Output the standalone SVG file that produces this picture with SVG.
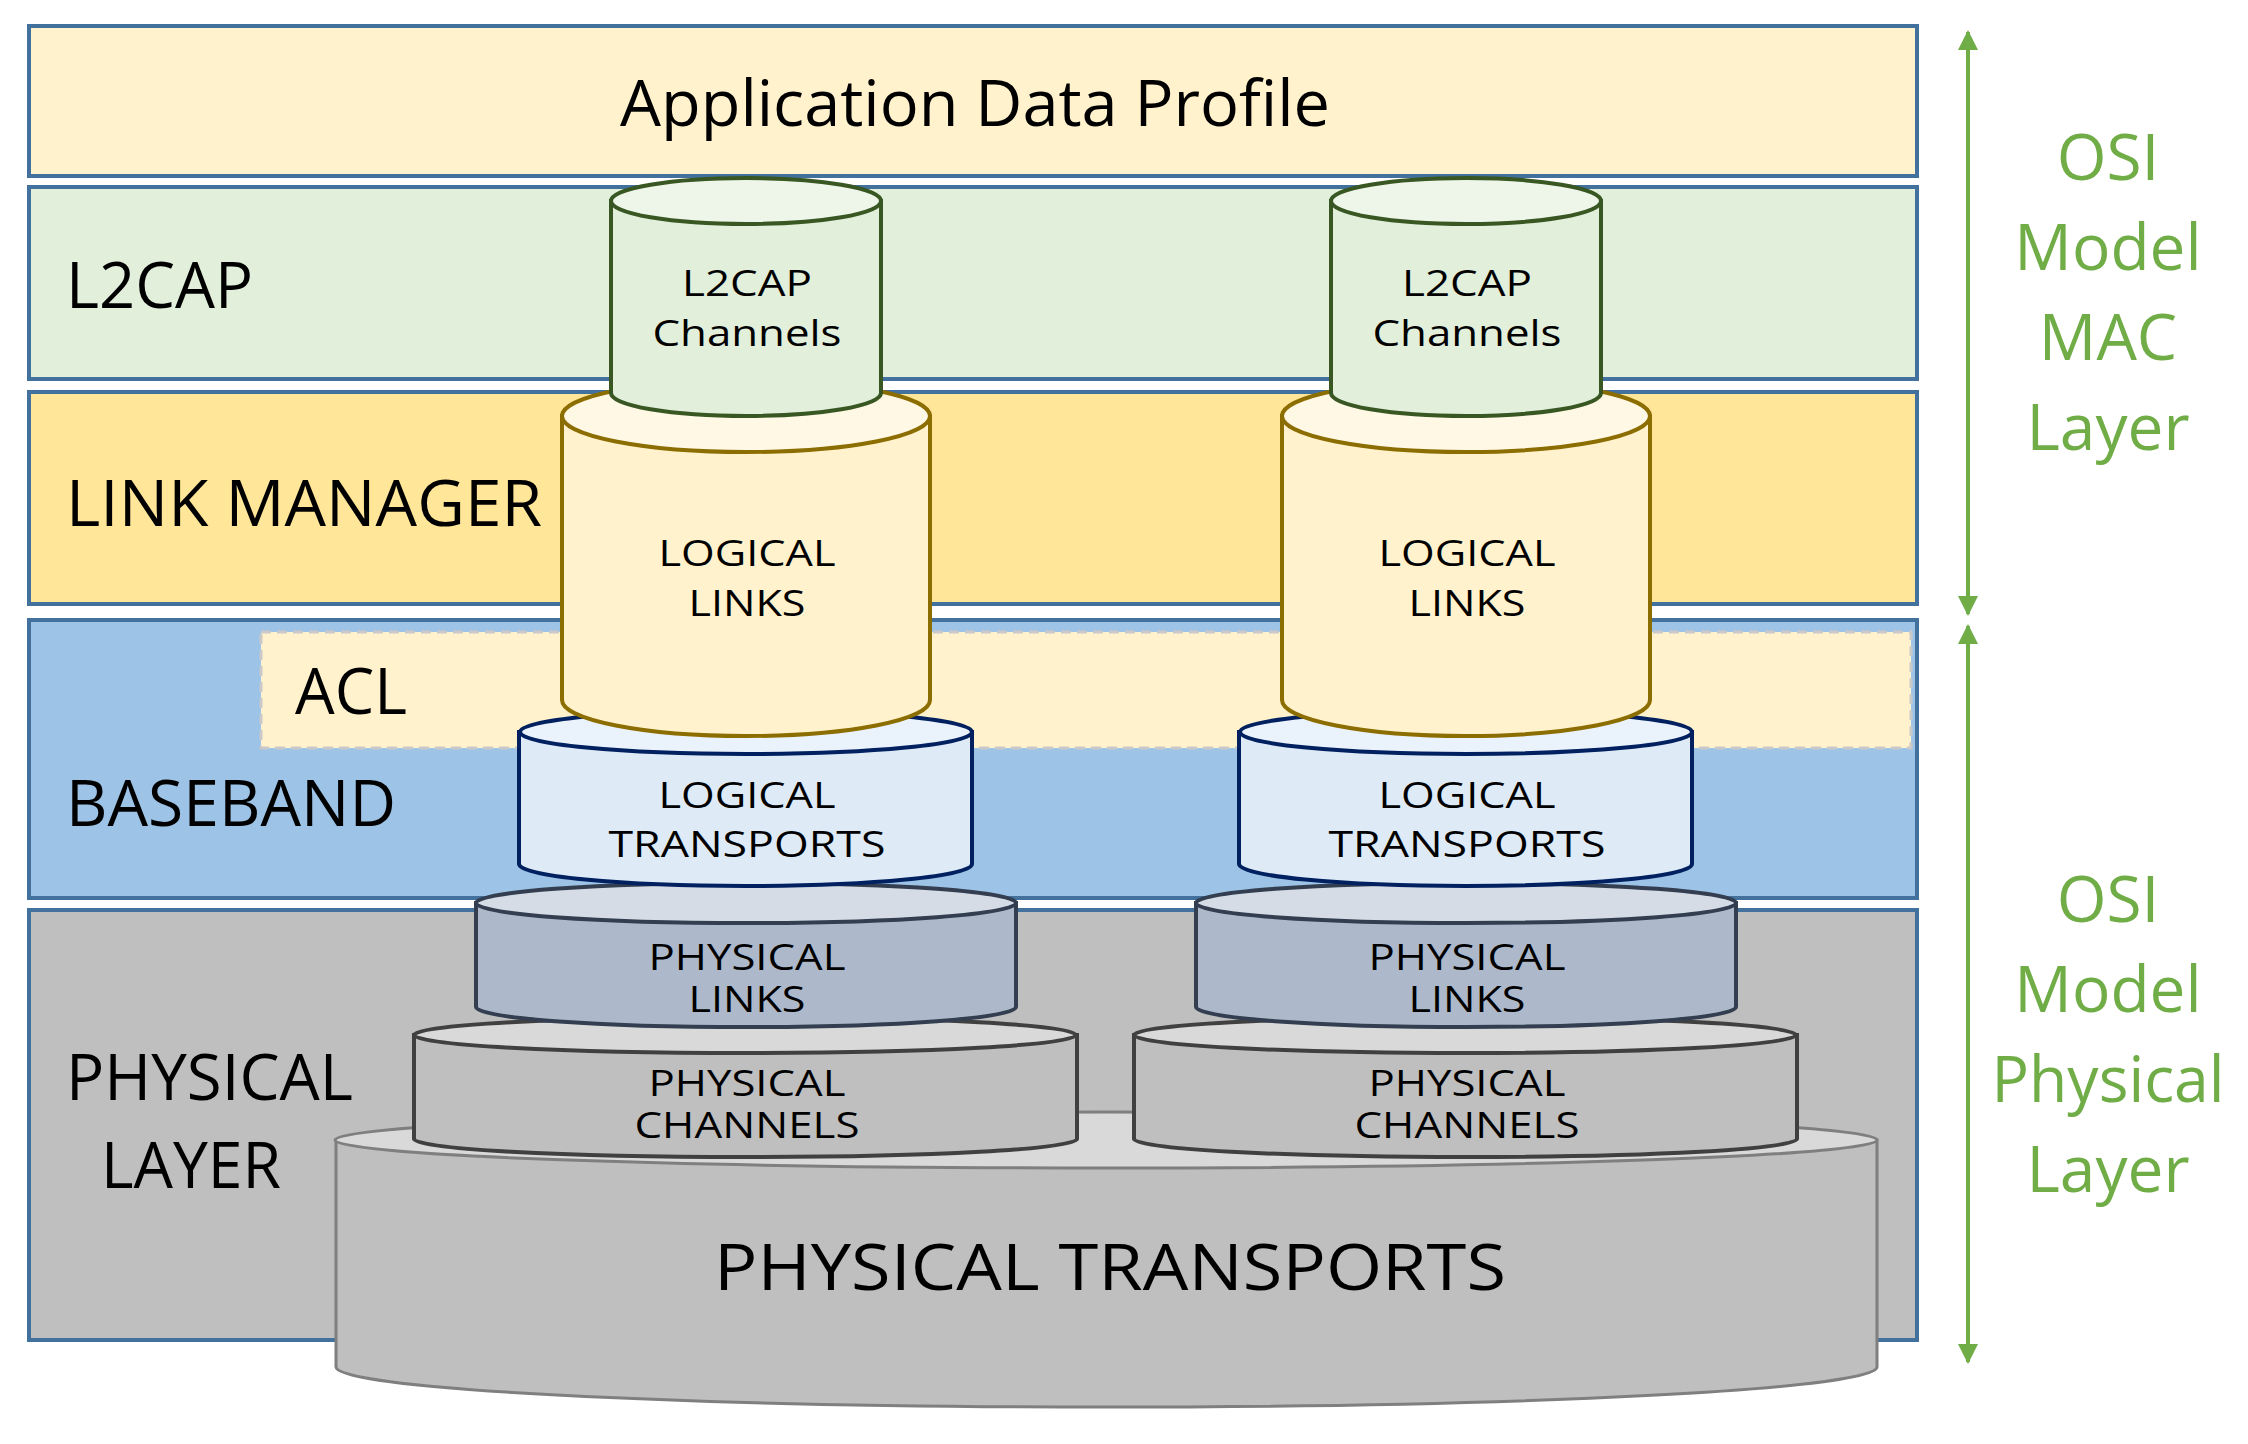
<svg xmlns="http://www.w3.org/2000/svg" width="2248" height="1444" viewBox="0 0 2248 1444">
<defs>
<style>
text{font-family:"Open Sans","Noto Sans",sans-serif;fill:#000}
.band{stroke:#41719c;stroke-width:4}
.big{font-size:64px}
.cy{font-size:37px;text-anchor:middle}
.osi{font-size:64px;text-anchor:middle;fill:#70ad47}
.arr{stroke:#70ad47;stroke-width:4;fill:none;marker-start:url(#ah);marker-end:url(#ah)}
</style>
<marker id="ah" viewBox="0 0 10 10" refX="9" refY="5" markerWidth="7" markerHeight="5" orient="auto-start-reverse" markerUnits="strokeWidth"><path d="M0,0 L10,5 L0,10 z" fill="#70ad47"/></marker>
</defs>
<rect width="2248" height="1444" fill="#fff"/>
<g id="app"><rect class="band" x="29" y="26" width="1888" height="150" fill="#fff2cc"/>
<text class="big" x="975" y="126" text-anchor="middle" textLength="710" lengthAdjust="spacingAndGlyphs">Application Data Profile</text></g>
<g id="l2cap"><rect class="band" x="29" y="187" width="1888" height="192" fill="#e2efda"/>
<text class="big" x="66" y="308" textLength="187" lengthAdjust="spacingAndGlyphs">L2CAP</text></g>
<g id="lm"><rect class="band" x="29" y="392" width="1888" height="212" fill="#ffe699"/>
<text class="big" x="66" y="526" textLength="476" lengthAdjust="spacingAndGlyphs">LINK MANAGER</text></g>
<g id="baseband"><rect class="band" x="29" y="620" width="1888" height="278" fill="#9dc3e6"/>
<rect x="261" y="632" width="1650" height="116" fill="#fff2cc" stroke="#c9c9c9" stroke-width="3" stroke-dasharray="10,6"/>
<text class="big" x="295" y="714" textLength="112" lengthAdjust="spacingAndGlyphs">ACL</text>
<text class="big" x="66" y="826" textLength="330" lengthAdjust="spacingAndGlyphs">BASEBAND</text></g>
<g id="physical"><rect class="band" x="29" y="910" width="1888" height="430" fill="#bfbfbf"/>
<text class="big" x="66" y="1100" textLength="287" lengthAdjust="spacingAndGlyphs">PHYSICAL</text>
<text class="big" x="101" y="1188" textLength="180" lengthAdjust="spacingAndGlyphs">LAYER</text></g>
<g id="phys-transports">
<path d="M336,1140 L336,1367 A770,40 0 0 0 1877,1367 L1877,1140 Z" fill="#bfbfbf" stroke="#7f7f7f" stroke-width="3"/>
<ellipse cx="1106" cy="1140" rx="771" ry="28" fill="#d9d9d9" stroke="#7f7f7f" stroke-width="3"/>
<text class="big" x="1110" y="1290" text-anchor="middle" textLength="792" lengthAdjust="spacingAndGlyphs">PHYSICAL TRANSPORTS</text></g>
<g id="stack-left" transform="translate(-4,0)">
<path d="M418,1035 L418,1139 A331,18 0 0 0 1081,1139 L1081,1035 Z" fill="#bfbfbf" stroke="#404040" stroke-width="4"/>
<ellipse cx="749" cy="1035" rx="331" ry="18" fill="#d9d9d9" stroke="#404040" stroke-width="4"/>
<text class="cy" x="751" y="1096" textLength="197" lengthAdjust="spacingAndGlyphs">PHYSICAL</text>
<text class="cy" x="751" y="1138" textLength="225" lengthAdjust="spacingAndGlyphs">CHANNELS</text>
<path d="M480,903 L480,1007 A270,20 0 0 0 1020,1007 L1020,903 Z" fill="#adb9ca" stroke="#333f50" stroke-width="4"/>
<ellipse cx="750" cy="903" rx="270" ry="20" fill="#d6dce5" stroke="#333f50" stroke-width="4"/>
<text class="cy" x="751" y="970" textLength="197" lengthAdjust="spacingAndGlyphs">PHYSICAL</text>
<text class="cy" x="751" y="1012" textLength="117" lengthAdjust="spacingAndGlyphs">LINKS</text>
<path d="M523,732 L523,864 A226,22 0 0 0 976,864 L976,732 Z" fill="#deebf7" stroke="#002060" stroke-width="4"/>
<ellipse cx="750" cy="732" rx="226" ry="22" fill="#eaf2fb" stroke="#002060" stroke-width="4"/>
<text class="cy" x="751" y="808" textLength="177" lengthAdjust="spacingAndGlyphs">LOGICAL</text>
<text class="cy" x="751" y="857" textLength="277" lengthAdjust="spacingAndGlyphs">TRANSPORTS</text>
<path d="M566,416 L566,700 A184,36 0 0 0 934,700 L934,416 Z" fill="#fff2cc" stroke="#8c6d00" stroke-width="4"/>
<ellipse cx="750" cy="416" rx="184" ry="36" fill="#fff8e5" stroke="#8c6d00" stroke-width="4"/>
<text class="cy" x="751" y="566" textLength="177" lengthAdjust="spacingAndGlyphs">LOGICAL</text>
<text class="cy" x="751" y="616" textLength="117" lengthAdjust="spacingAndGlyphs">LINKS</text>
<path d="M615,201 L615,393 A135,23 0 0 0 885,393 L885,201 Z" fill="#e2efda" stroke="#385723" stroke-width="4"/>
<ellipse cx="750" cy="201" rx="135" ry="23" fill="#eef5e9" stroke="#385723" stroke-width="4"/>
<text class="cy" x="751" y="296" textLength="130" lengthAdjust="spacingAndGlyphs">L2CAP</text>
<text class="cy" x="751" y="346" textLength="189" lengthAdjust="spacingAndGlyphs">Channels</text>
</g>
<g id="stack-right" transform="translate(716,0)">
<path d="M418,1035 L418,1139 A331,18 0 0 0 1081,1139 L1081,1035 Z" fill="#bfbfbf" stroke="#404040" stroke-width="4"/>
<ellipse cx="749" cy="1035" rx="331" ry="18" fill="#d9d9d9" stroke="#404040" stroke-width="4"/>
<text class="cy" x="751" y="1096" textLength="197" lengthAdjust="spacingAndGlyphs">PHYSICAL</text>
<text class="cy" x="751" y="1138" textLength="225" lengthAdjust="spacingAndGlyphs">CHANNELS</text>
<path d="M480,903 L480,1007 A270,20 0 0 0 1020,1007 L1020,903 Z" fill="#adb9ca" stroke="#333f50" stroke-width="4"/>
<ellipse cx="750" cy="903" rx="270" ry="20" fill="#d6dce5" stroke="#333f50" stroke-width="4"/>
<text class="cy" x="751" y="970" textLength="197" lengthAdjust="spacingAndGlyphs">PHYSICAL</text>
<text class="cy" x="751" y="1012" textLength="117" lengthAdjust="spacingAndGlyphs">LINKS</text>
<path d="M523,732 L523,864 A226,22 0 0 0 976,864 L976,732 Z" fill="#deebf7" stroke="#002060" stroke-width="4"/>
<ellipse cx="750" cy="732" rx="226" ry="22" fill="#eaf2fb" stroke="#002060" stroke-width="4"/>
<text class="cy" x="751" y="808" textLength="177" lengthAdjust="spacingAndGlyphs">LOGICAL</text>
<text class="cy" x="751" y="857" textLength="277" lengthAdjust="spacingAndGlyphs">TRANSPORTS</text>
<path d="M566,416 L566,700 A184,36 0 0 0 934,700 L934,416 Z" fill="#fff2cc" stroke="#8c6d00" stroke-width="4"/>
<ellipse cx="750" cy="416" rx="184" ry="36" fill="#fff8e5" stroke="#8c6d00" stroke-width="4"/>
<text class="cy" x="751" y="566" textLength="177" lengthAdjust="spacingAndGlyphs">LOGICAL</text>
<text class="cy" x="751" y="616" textLength="117" lengthAdjust="spacingAndGlyphs">LINKS</text>
<path d="M615,201 L615,393 A135,23 0 0 0 885,393 L885,201 Z" fill="#e2efda" stroke="#385723" stroke-width="4"/>
<ellipse cx="750" cy="201" rx="135" ry="23" fill="#eef5e9" stroke="#385723" stroke-width="4"/>
<text class="cy" x="751" y="296" textLength="130" lengthAdjust="spacingAndGlyphs">L2CAP</text>
<text class="cy" x="751" y="346" textLength="189" lengthAdjust="spacingAndGlyphs">Channels</text>
</g>
<g id="connectors">
<line class="arr" x1="1968" y1="32" x2="1968" y2="614"/>
<line class="arr" x1="1968" y1="626" x2="1968" y2="1362"/>
</g>
<g id="osi-mac">
<text class="osi" x="2108" y="180">OSI</text>
<text class="osi" x="2108" y="270">Model</text>
<text class="osi" x="2108" y="360">MAC</text>
<text class="osi" x="2108" y="450">Layer</text>
</g>
<g id="osi-phy">
<text class="osi" x="2108" y="922">OSI</text>
<text class="osi" x="2108" y="1012">Model</text>
<text class="osi" x="2108" y="1102" textLength="233" lengthAdjust="spacingAndGlyphs">Physical</text>
<text class="osi" x="2108" y="1192">Layer</text>
</g>
</svg>
